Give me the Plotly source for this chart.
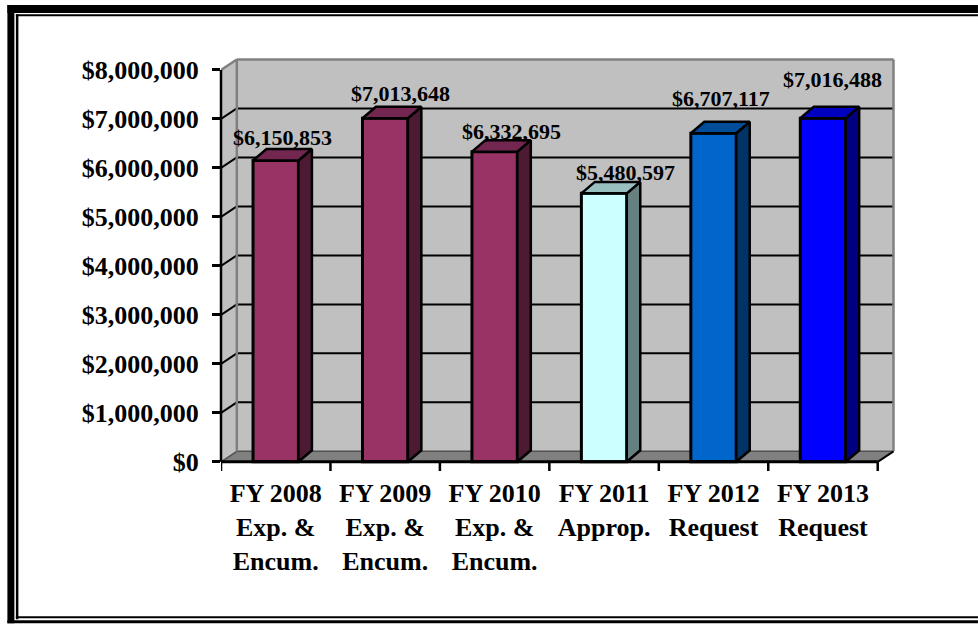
import plotly.graph_objects as go

# ---- data ----
categories = ["FY 2008<br>Exp. &<br>Encum.", "FY 2009<br>Exp. &<br>Encum.", "FY 2010<br>Exp. &<br>Encum.",
              "FY 2011<br>Approp.", "FY 2012<br>Request", "FY 2013<br>Request"]
values = [6150853, 7013648, 6332695, 5480597, 6707117, 7016488]
tick_values = [0, 1000000, 2000000, 3000000, 4000000, 5000000, 6000000, 7000000, 8000000]
tick_labels = ["$0", "$1,000,000", "$2,000,000", "$3,000,000", "$4,000,000",
               "$5,000,000", "$6,000,000", "$7,000,000", "$8,000,000"]
value_labels = ["$6,150,853", "$7,013,648", "$6,332,695", "$5,480,597", "$6,707,117", "$7,016,488"]

# ---- style ----
front_colors = ["#993366", "#993366", "#993366", "#CCFFFF", "#0066CC", "#0000FF"]
side_colors = ["#4D1A33", "#4D1A33", "#4D1A33", "#668080", "#003366", "#000080"]
top_colors = ["#732650", "#732650", "#732650", "#99BFBF", "#004D99", "#0000BF"]
label_shift_x = [7, 15, 17, 21, 7, 10]
label_shift_y = [23, 25, 20, 21, 35, 39]

W, H = 978, 624
L, R, T, B = 220.7, 896.0, 54.0, 471.5
BASE = 462.3
PX_X = 109.5            # pixels per category
PX_Y = 49.04 / 1e6      # pixels per dollar
WALL_DX, WALL_DY = 15.8 / PX_X, 10.5 / PX_Y
BAR_DX, BAR_DY = 13.5 / PX_X, 11.5 / PX_Y
BAR_W = 45.4 / PX_X
X0 = -0.5
X_END = X0 + len(values)
x_range = [X0, X0 + (R - L) / PX_X]
y_range = [-(B - BASE) / PX_Y, (BASE - T) / PX_Y]
YMAX = tick_values[-1]
FONT = "Liberation Serif"


def px(x):
    return (x - L) / (R - L)


def py(y):
    return (B - y) / (B - T)


shapes = []


def poly(points, fill, line=None, width=0, layer="below"):
    d = "M" + "L".join(f"{a},{b}" for a, b in points) + "Z"
    shapes.append(dict(type="path", path=d, xref="x", yref="y", fillcolor=fill, layer=layer,
                       line=dict(color=line or fill, width=width)))


def seg(x0, y0, x1, y1, color="black", width=2, layer="below", xref="x", yref="y"):
    shapes.append(dict(type="line", x0=x0, y0=y0, x1=x1, y1=y1, xref=xref, yref=yref, layer=layer,
                       line=dict(color=color, width=width)))


# walls and floor
poly([(X0 + WALL_DX, WALL_DY), (X_END + WALL_DX, WALL_DY), (X_END + WALL_DX, YMAX + WALL_DY), (X0 + WALL_DX, YMAX + WALL_DY)], "#C0C0C0")
poly([(X0, 0), (X0 + WALL_DX, WALL_DY), (X0 + WALL_DX, YMAX + WALL_DY), (X0, YMAX)], "#C0C0C0")
poly([(X0, 0), (X_END, 0), (X_END + WALL_DX, WALL_DY), (X0 + WALL_DX, WALL_DY)], "#808080")

# gridlines on the back wall, running round the side wall
for v in tick_values[1:-1]:
    seg(X0 + WALL_DX, v + WALL_DY, X_END + WALL_DX, v + WALL_DY)
    seg(X0, v, X0 + WALL_DX, v + WALL_DY)
seg(X0 + WALL_DX, WALL_DY, X_END + WALL_DX, WALL_DY, color="#505050", width=1.5)
seg(X0, 0, X0 + WALL_DX, WALL_DY, color="#505050", width=1.5)

# wall edges
seg(X0, YMAX, X0 + WALL_DX, YMAX + WALL_DY, color="#808080", width=2.5)
seg(X0 + WALL_DX, YMAX + WALL_DY, X_END + WALL_DX, YMAX + WALL_DY, color="#808080", width=2.5)
seg(X0 + WALL_DX, WALL_DY, X0 + WALL_DX, YMAX + WALL_DY, color="#808080", width=2.5)
seg(X_END + WALL_DX, WALL_DY, X_END + WALL_DX, YMAX + WALL_DY, color="#808080", width=2.5)

# axis lines and category boundary ticks
seg(0, 0, 0, YMAX, width=2.5, layer="above", xref="paper")
seg(X0, 0, X_END, 0, width=3, layer="above")
seg(X_END, 0, X_END + WALL_DX, WALL_DY, color="black", width=2, layer="above")
for k in range(len(values) + 1):
    seg(X0 + k, 0, X0 + k, y_range[0], width=2.5, layer="above")

xs = list(range(len(values)))
fig = go.Figure()
fig.add_trace(go.Bar(x=xs, y=values, width=BAR_W, marker=dict(color=front_colors, line=dict(color="black", width=3)),
                     showlegend=False, hoverinfo="skip"))

# bar side and top faces, derived from the values
for i, v in enumerate(values):
    xl, xr = i - BAR_W / 2, i + BAR_W / 2
    fig.add_trace(go.Scatter(x=[xr, xr + BAR_DX, xr + BAR_DX, xr, xr], y=[0, BAR_DY, v + BAR_DY, v, 0],
                             mode="lines", fill="toself", fillcolor=side_colors[i],
                             line=dict(color="black", width=2.5), showlegend=False, hoverinfo="skip"))
    fig.add_trace(go.Scatter(x=[xl, xl + BAR_DX, xr + BAR_DX, xr, xl], y=[v, v + BAR_DY, v + BAR_DY, v, v],
                             mode="lines", fill="toself", fillcolor=top_colors[i],
                             line=dict(color="black", width=2.5), showlegend=False, hoverinfo="skip"))

annotations = [dict(x=i, y=v, xref="x", yref="y", text=value_labels[i], showarrow=False,
                    xshift=label_shift_x[i], yshift=label_shift_y[i], xanchor="center", yanchor="middle",
                    font=dict(family=FONT, size=22, color="black", weight="bold"))
               for i, v in enumerate(values)]

# outer frame (open at the right edge of the picture)
frame = [
    (7, 5, 978, 13), (7, 5, 14, 624), (15.5, 14.3, 18, 620), (15.5, 14.3, 978, 16.2),
    (15.5, 617, 978, 619), (7, 621, 978, 624),
]
for x0, y0, x1, y1 in frame:
    shapes.append(dict(type="rect", xref="paper", yref="paper", x0=px(x0), x1=px(x1), y0=py(y0), y1=py(y1),
                       fillcolor="black", line=dict(width=0), layer="above"))

fig.update_layout(
    width=W, height=H, autosize=False, paper_bgcolor="white", plot_bgcolor="rgba(0,0,0,0)",
    margin=dict(l=L, r=W - R, t=T, b=H - B, pad=0, autoexpand=False),
    showlegend=False, shapes=shapes, annotations=annotations,
    xaxis=dict(range=x_range, tickmode="array", tickvals=xs, ticktext=categories, ticks="",
               showgrid=False, zeroline=False, showline=False, tickangle=0, ticklabelstandoff=4,
               tickfont=dict(family=FONT, size=26, color="black", weight="bold")),
    yaxis=dict(range=y_range, tickmode="array", tickvals=tick_values, ticktext=tick_labels, ticks="outside",
               ticklen=8, tickwidth=2.5, tickcolor="black", showgrid=False, zeroline=False, showline=False,
               ticklabelstandoff=8,
               tickfont=dict(family=FONT, size=26, color="black", weight="bold")),
)
fig.write_html("out.html", config=dict(displayModeBar=False),
               post_script="document.body.style.margin='0';document.body.style.overflow='hidden';")
